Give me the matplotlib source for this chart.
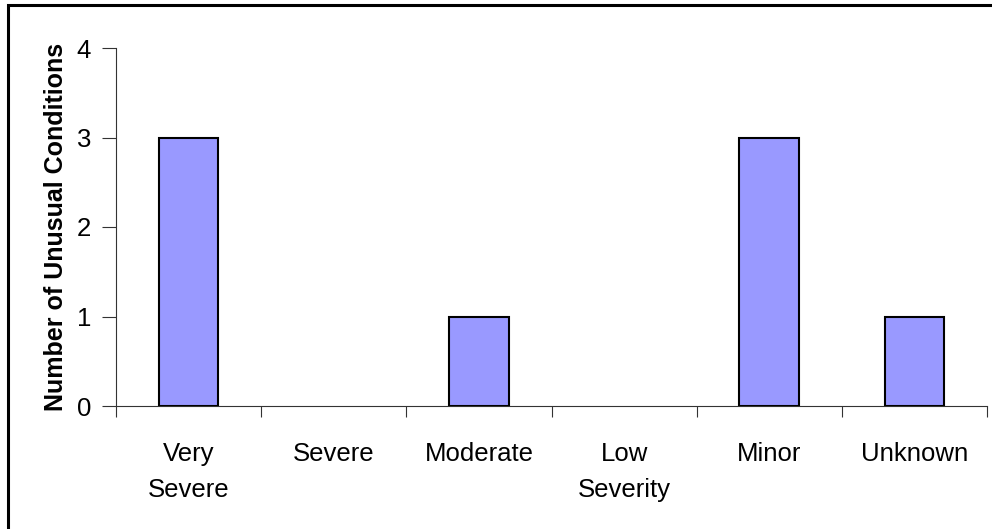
import matplotlib.pyplot as plt
import matplotlib.patches as patches
import numpy as np

categories = ["Very\nSevere", "Severe", "Moderate", "Low\nSeverity", "Minor", "Unknown"]
counts = [3, 0, 1, 0, 3, 1]
yticks = [0, 1, 2, 3, 4]

plt.rcParams['font.family'] = ['Liberation Sans', 'DejaVu Sans']

fig = plt.figure(figsize=(9.92, 5.29), dpi=100)
ax = fig.add_axes([116/992, 1 - 406/529, (987 - 116)/992, (406 - 48)/529])

x = np.arange(len(categories))
counts = np.array(counts)
shown = counts > 0  # empty categories get no bar outline
ax.bar(x[shown], counts[shown], width=0.41, color='#9999FF', edgecolor='black', linewidth=1.5, zorder=3)

ax.set_xlim(-0.5, len(categories) - 0.5)
ax.set_ylim(0, 4)

# boundaries get the tick marks, the category centres get the labels
ax.set_xticks(np.arange(len(categories) + 1) - 0.5)
ax.set_xticklabels([])
ax.set_xticks(x, minor=True)
ax.set_xticklabels(categories, minor=True, fontsize=18.5, linespacing=1.62, va='top')
ax.tick_params(axis='x', which='major', direction='out', length=8, width=0.8, color='#333333')
ax.tick_params(axis='x', which='minor', length=0, pad=26)

ax.set_yticks(yticks)
ax.set_yticklabels([str(v) for v in yticks], fontsize=18.5)
ax.tick_params(axis='y', direction='out', length=10, width=0.8, color='#333333', pad=8)

for side in ['top', 'right']:
    ax.spines[side].set_visible(False)
for side in ['left', 'bottom']:
    ax.spines[side].set_color('#333333')
    ax.spines[side].set_linewidth(0.8)

ax.set_ylabel("Number of Unusual Conditions", fontsize=18, fontweight='bold', labelpad=6)

# frame around the whole chart area
fig.patches.append(patches.Rectangle((8/992, -0.1), 1.1, 1 - 5/529 + 0.1, transform=fig.transFigure,
                                     fill=False, edgecolor='black', linewidth=2.2))

fig.savefig("out.png", dpi=100)
